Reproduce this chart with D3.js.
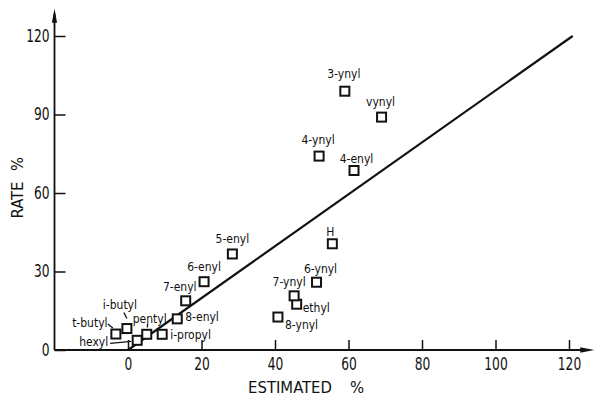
<!DOCTYPE html>
<html>
<head>
<meta charset="utf-8">
<script src="https://cdn.jsdelivr.net/npm/d3@7"></script>
<style>
  html, body { margin: 0; padding: 0; background: #fff; }
  svg { display: block; }
  text { font-family: "DejaVu Sans Condensed", "DejaVu Sans", sans-serif; fill: #111; }
</style>
</head>
<body>
<svg id="chart" width="595" height="396"></svg>
<script>
// Substituents: estimated vs measured rate (%)
const names = ["t-butyl", "i-butyl", "hexyl", "pentyl", "i-propyl", "8-enyl", "7-enyl",
  "6-enyl", "5-enyl", "8-ynyl", "ethyl", "7-ynyl", "6-ynyl", "H", "4-ynyl", "4-enyl",
  "3-ynyl", "vynyl"];
const estimated = [-3.3, -0.3, 2.5, 5.1, 9.3, 13.4, 15.7, 20.7, 28.4, 40.8, 45.9, 45.2,
  51.3, 55.6, 52.0, 61.5, 59.0, 69.0];
const rate = [6.1, 8.2, 3.7, 6.0, 6.0, 11.9, 18.8, 26.1, 36.7, 12.6, 17.5, 20.7,
  25.9, 40.6, 74.1, 68.6, 98.9, 89.0];

// Fitted line (estimated = rate)
const fitX = [0, 121];
const fitY = [0, 120];

const xTicks = [0, 20, 40, 60, 80, 100, 120];
const yTicks = [0, 30, 60, 90, 120];

// Label placement around each marker (pixel offsets) and optional leader segments
const labelLayout = {
  "t-butyl":  { dx: -26, dy: -11, anchor: "middle", leader: [[-8, -10], [-3, -6]] },
  "i-butyl":  { dx: -7,  dy: -24, anchor: "middle", leader: [[-3, -16], [0, -10]] },
  "hexyl":    { dx: -29, dy: 1,   anchor: "end",    leader: [[-27, 3], [-6, 1]] },
  "pentyl":   { dx: 3,   dy: -16, anchor: "middle", leader: [[1, -11], [0.5, -7]] },
  "i-propyl": { dx: 8,   dy: 0,   anchor: "start" },
  "8-enyl":   { dx: 8,   dy: -2,  anchor: "start" },
  "7-enyl":   { dx: -6,  dy: -14, anchor: "middle" },
  "6-enyl":   { dx: 0,   dy: -15, anchor: "middle" },
  "5-enyl":   { dx: 0,   dy: -15, anchor: "middle" },
  "8-ynyl":   { dx: 7,   dy: 8,   anchor: "start" },
  "ethyl":    { dx: 6,   dy: 4,   anchor: "start" },
  "7-ynyl":   { dx: -5,  dy: -14, anchor: "middle" },
  "6-ynyl":   { dx: 4,   dy: -13, anchor: "middle" },
  "H":        { dx: -2,  dy: -12, anchor: "middle" },
  "4-ynyl":   { dx: -1,  dy: -16, anchor: "middle" },
  "4-enyl":   { dx: 2.5, dy: -12, anchor: "middle" },
  "3-ynyl":   { dx: -1,  dy: -17, anchor: "middle" },
  "vynyl":    { dx: -1,  dy: -15, anchor: "middle" }
};

const svg = d3.select("#chart");

const x = d3.scaleLinear().domain([0, 120]).range([128, 569]);
const y = d3.scaleLinear().domain([0, 120]).range([350, 36]);

const xMin = -20, xMax = 126.6, yMax = 130;
const ink = "#111";
const narrow = 0.8;   // horizontal squeeze for the tall, narrow numerals

// Axis lines with arrowheads
svg.append("line")
  .attr("x1", x(xMin)).attr("y1", y(0)).attr("x2", x(xMax) - 4).attr("y2", y(0))
  .attr("stroke", ink).attr("stroke-width", 1.8);
svg.append("path")
  .attr("d", `M${x(xMax) + 1},${y(0)} L${x(xMax) - 13},${y(0) - 2.8} L${x(xMax) - 13},${y(0) + 2.8} Z`)
  .attr("fill", ink);
svg.append("line")
  .attr("x1", x(xMin)).attr("y1", y(0)).attr("x2", x(xMin)).attr("y2", y(yMax) + 4)
  .attr("stroke", ink).attr("stroke-width", 1.8);
svg.append("path")
  .attr("d", `M${x(xMin)},${y(yMax) - 1} L${x(xMin) - 2.6},${y(yMax) + 13} L${x(xMin) + 2.6},${y(yMax) + 13} Z`)
  .attr("fill", ink);

// Axes: ticks point inward
const xAxis = svg.append("g")
  .attr("transform", `translate(0,${y(0)})`)
  .call(d3.axisBottom(x).tickValues(xTicks).tickSizeInner(-10).tickSizeOuter(0).tickPadding(8));
const yAxis = svg.append("g")
  .attr("transform", `translate(${x(xMin)},0)`)
  .call(d3.axisLeft(y).tickValues(yTicks).tickSizeInner(-11).tickSizeOuter(0).tickPadding(5));
[xAxis, yAxis].forEach(g => {
  g.select(".domain").remove();
  g.selectAll(".tick line").attr("stroke", ink).attr("stroke-width", 1.5);
  g.selectAll(".tick text")
    .attr("fill", ink)
    .style("font-family", '"DejaVu Sans Condensed", "DejaVu Sans", sans-serif')
    .style("font-size", "17px");
});
// squeeze tick numerals horizontally, keeping their anchor point
yAxis.selectAll(".tick text").attr("x", -5 / narrow).attr("transform", `scale(${narrow},1)`);
xAxis.selectAll(".tick text").attr("transform", `scale(${narrow},1)`);

// Axis titles
svg.append("text")
  .attr("x", 290).attr("y", 393)
  .attr("text-anchor", "middle")
  .style("font-size", "16.5px")
  .text("ESTIMATED");
svg.append("text")
  .attr("x", 357).attr("y", 393)
  .attr("text-anchor", "middle")
  .style("font-size", "16.5px")
  .text("%");
svg.append("text")
  .attr("transform", `translate(22.5,200) rotate(-90)`)
  .attr("text-anchor", "middle")
  .style("font-size", "16.5px")
  .text("RATE");
svg.append("text")
  .attr("transform", `translate(22.5,164) rotate(-90)`)
  .attr("text-anchor", "middle")
  .style("font-size", "16.5px")
  .text("%");

// Fitted line
svg.append("line")
  .attr("x1", x(fitX[0])).attr("y1", y(fitY[0]))
  .attr("x2", x(fitX[1])).attr("y2", y(fitY[1]))
  .attr("stroke", ink).attr("stroke-width", 2.2);

// Points
const pts = names.map((n, i) => ({ name: n, ex: estimated[i], r: rate[i] }));

const markerSize = 9;
svg.append("g").selectAll("rect")
  .data(pts).join("rect")
  .attr("x", d => x(d.ex) - markerSize / 2)
  .attr("y", d => y(d.r) - markerSize / 2)
  .attr("width", markerSize).attr("height", markerSize)
  .attr("fill", "#fff").attr("stroke", ink).attr("stroke-width", 2);

// Labels and leaders
const lab = svg.append("g");
pts.forEach(d => {
  const L = labelLayout[d.name];
  const px = x(d.ex), py = y(d.r);
  lab.append("text")
    .attr("x", px + L.dx).attr("y", py + L.dy)
    .attr("dy", "0.35em")
    .attr("text-anchor", L.anchor)
    .style("font-size", "12px")
    .text(d.name);
  if (L.leader) {
    lab.append("line")
      .attr("x1", px + L.leader[0][0]).attr("y1", py + L.leader[0][1])
      .attr("x2", px + L.leader[1][0]).attr("y2", py + L.leader[1][1])
      .attr("stroke", ink).attr("stroke-width", 1.3);
  }
});
</script>
</body>
</html>
